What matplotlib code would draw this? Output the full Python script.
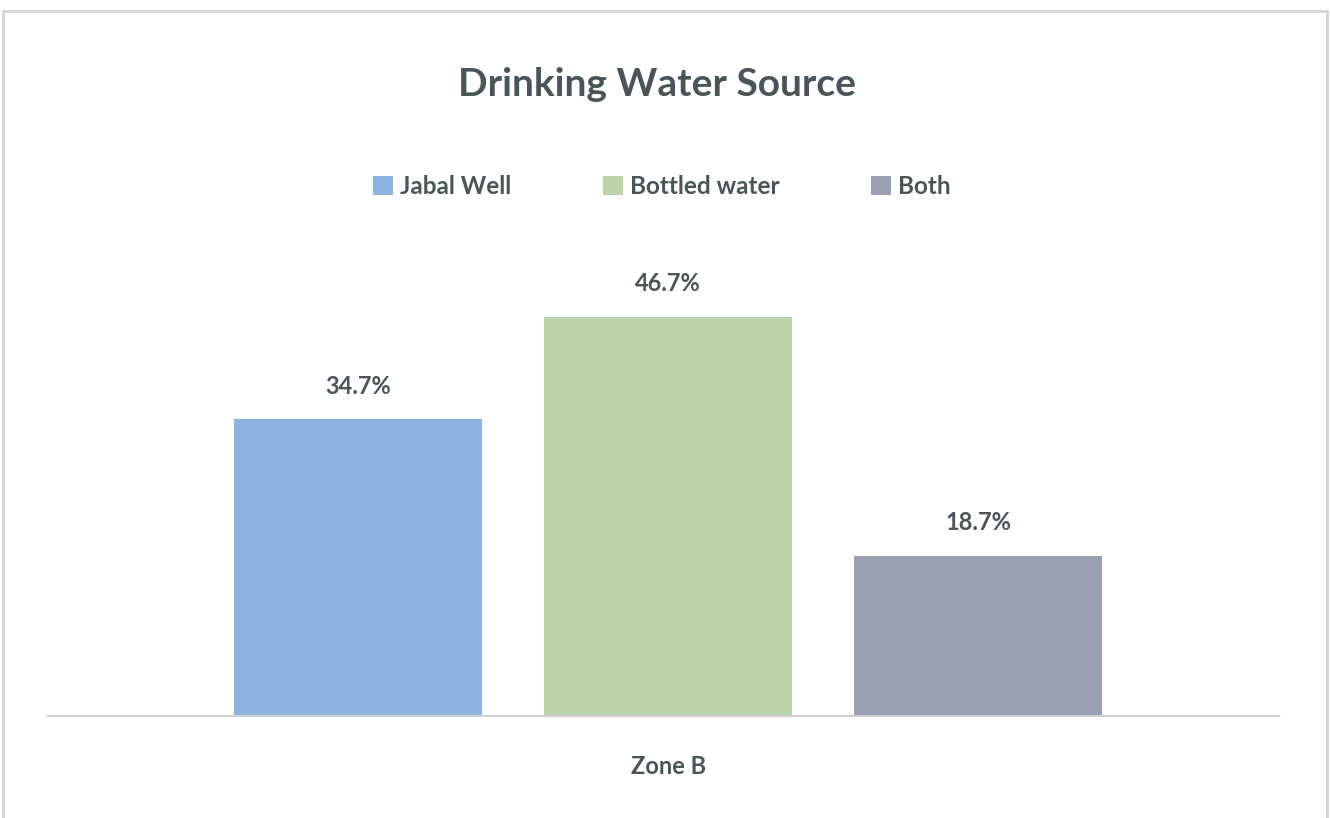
import matplotlib.pyplot as plt
from matplotlib.patches import Rectangle, Patch

# survey shares for Zone B (percent)
sources = ['Jabal Well', 'Bottled water', 'Both']
shares = [34.7, 46.7, 18.7]
colors = ['#8db5e2', '#bcd4aa', '#9b9fb2']
zone = 'Zone B'

text_color = '#4a5558'
plt.rcParams['font.family'] = ['Lato', 'DejaVu Sans']

fig = plt.figure(figsize=(13.3, 8.18), dpi=100)
ax = fig.add_axes([48 / 1330, 102 / 818, 1231 / 1330, 470 / 818])

positions = [0, 1, 2]
bars = ax.bar(positions, shares, width=0.8, color=colors)
for b, v in zip(bars, shares):
    ax.text(b.get_x() + b.get_width() / 2, v + 3.9, f'{v:.1f}%',
            ha='center', va='center', fontsize=17, fontweight='bold',
            color=text_color)

ax.set_xlim(-1.0, 2.97)
ax.set_ylim(0, 55)
ax.set_xticks([1])
ax.set_xticklabels([zone], fontsize=17, fontweight='bold', color=text_color)
ax.tick_params(axis='x', length=0, pad=28)
ax.set_yticks([])
for s in ['top', 'right', 'left']:
    ax.spines[s].set_visible(False)
ax.spines['bottom'].set_color('#d0d0d0')
ax.spines['bottom'].set_linewidth(1.5)

fig.text(657 / 1330, 1 - 84 / 818, 'Drinking Water Source', ha='center', va='center',
         fontsize=28, fontweight='bold', color=text_color)

handles = [Patch(facecolor=c, label=l) for c, l in zip(colors, sources)]
fig.legend(handles=handles, loc='center', bbox_to_anchor=(662 / 1330, 1 - 186 / 818),
           ncol=3, frameon=False, handlelength=0.82, handleheight=0.82,
           handletextpad=0.3, columnspacing=3.75,
           prop={'weight': 'bold', 'size': 17.5}, labelcolor=text_color)

# outer frame
fig.patches.append(Rectangle((3 / 1330, -0.01), 1324 / 1330, (818 - 11) / 818 + 0.01,
                             transform=fig.transFigure, fill=False,
                             edgecolor='#d4d4d4', linewidth=2))

fig.savefig('out.png', dpi=100)
